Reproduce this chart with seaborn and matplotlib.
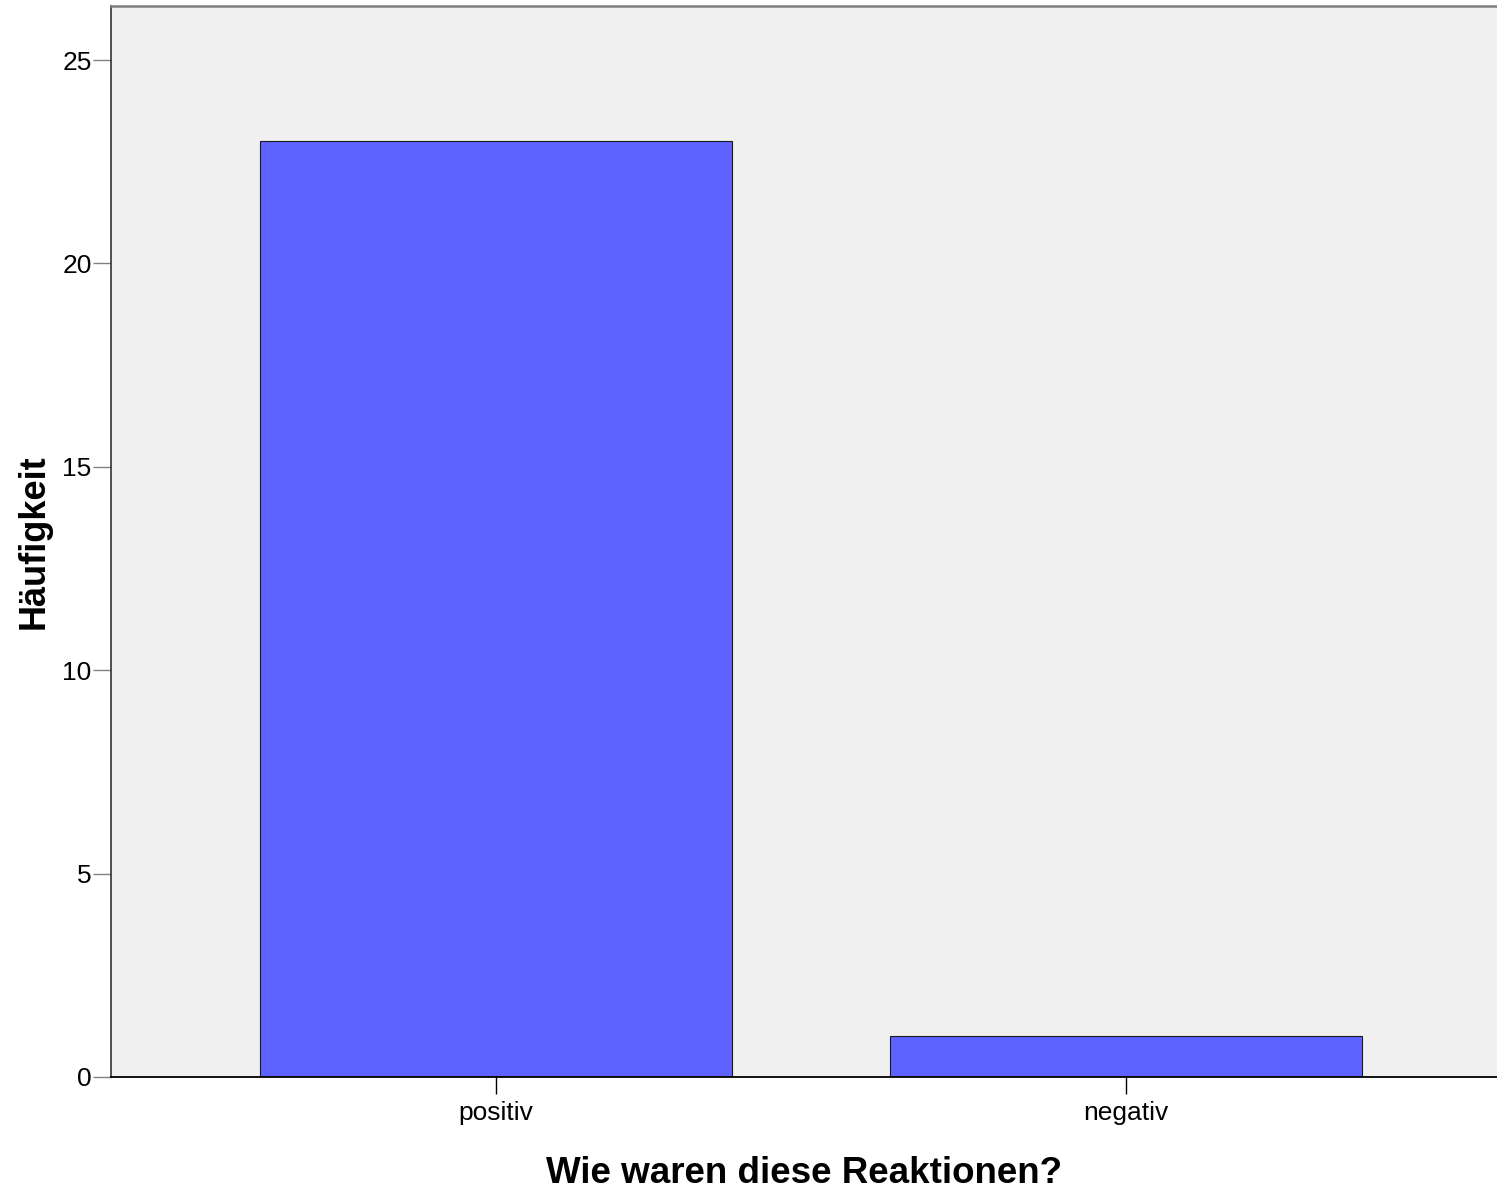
import matplotlib
matplotlib.use("Agg")
import matplotlib.pyplot as plt
import seaborn as sns
import pandas as pd

categories = ["positiv", "negativ"]
counts = [23, 1]
y_ticks = [0, 5, 10, 15, 20, 25]

sns.set_theme(style="white")
plt.rcParams['font.family'] = ['Liberation Sans', 'DejaVu Sans']

df = pd.DataFrame({"Reaktion": categories, "Häufigkeit": counts})

fig = plt.figure(figsize=(14.97, 11.88), dpi=100)
ax = fig.add_axes([111/1497, (1188-1077)/1188, 1386/1497, (1077-5.5)/1188])
ax.set_facecolor("#f0f0f0")

sns.barplot(data=df, x="Reaktion", y="Häufigkeit", color="#5e62ff", saturation=1,
            width=0.75, edgecolor="#1a1a1a", linewidth=0.8, ax=ax)

ax.set_xlim(-0.611, 1.589)
ax.set_ylim(0, 26.34)
ax.set_yticks(y_ticks)
ax.set_yticklabels([str(t) for t in y_ticks])

ax.tick_params(axis="y", direction="out", length=13, width=1, color="#808080",
               pad=1, labelsize=19, labelcolor="black", left=True)
ax.tick_params(axis="x", direction="out", length=12.5, width=1, color="black",
               pad=5, labelsize=19, labelcolor="black", bottom=True)

for side in ["left", "bottom", "top", "right"]:
    ax.spines[side].set_visible(True)
ax.spines["right"].set_visible(False)
ax.spines["left"].set_color("#333333")
ax.spines["left"].set_linewidth(1.2)
ax.spines["bottom"].set_color("black")
ax.spines["bottom"].set_linewidth(1.3)
ax.spines["top"].set_color("#7f7f7f")
ax.spines["top"].set_linewidth(1.8)

ax.set_xlabel("Wie waren diese Reaktionen?", fontsize=26.5, fontweight="bold",
              labelpad=22, color="black")
ax.set_ylabel("Häufigkeit", fontsize=26, fontweight="bold", color="black",
              va="center")
ax.yaxis.set_label_coords(-0.0556, 0.5)
ax.grid(False)

fig.savefig("out.png", dpi=100, facecolor="white")
